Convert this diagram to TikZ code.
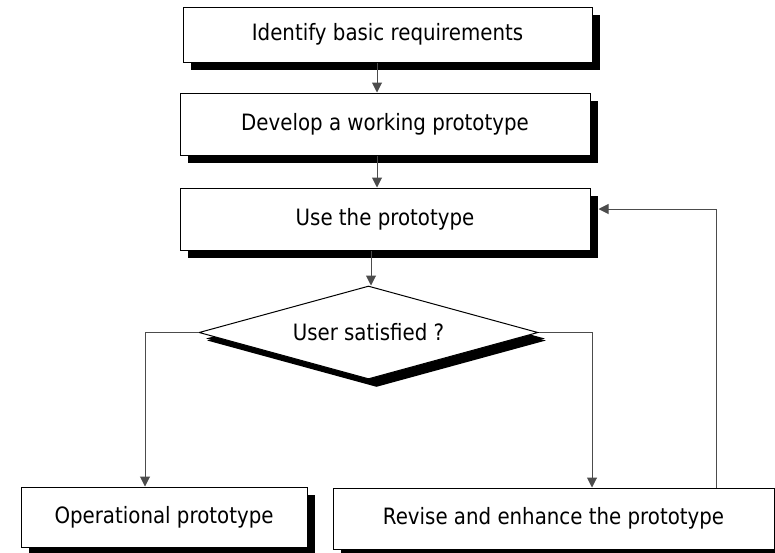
\documentclass[tikz,border=0pt]{standalone}
\usepackage{fontspec}
\setmainfont{DejaVu Sans}[FakeStretch=0.88]
\usetikzlibrary{shapes.geometric,shadows,arrows.meta}

\tikzset{
  base/.style={draw=black, line width=1pt, fill=white, inner sep=0pt,
    font=\fontsize{22.5}{27}\selectfont,
    drop shadow={shadow xshift=8pt, shadow yshift=-8pt, opacity=1, fill=black}},
  stepbox/.style={base, rectangle, minimum width=#1, minimum height=62pt},
  decision/.style={base, diamond, shape aspect=3.65, minimum width=339pt, minimum height=93pt,
    drop shadow={shadow xshift=7pt, shadow yshift=-6pt, opacity=1, fill=black}},
  link/.style={draw=black!70, line width=1pt},
  arr/.style={link, -{Triangle[width=10pt,length=10pt]}},
}

\begin{document}
\begin{tikzpicture}[x=1pt,y=-1pt]
  \useasboundingbox (0,0) rectangle (775,552);

  % process steps
  \node[stepbox=409pt, minimum height=55pt] (b1) at (387.5,34.5) {Identify basic requirements};
  \node[stepbox=410pt] (b2) at (385,124) {Develop a working prototype};
  \node[stepbox=410pt] (b3) at (385,219) {Use the prototype};

  % decision
  \node[decision] (d) at (368.5,332.5) {User satisfied ?};

  % outcomes
  \node[stepbox=286pt, minimum height=60pt] (op) at (164,517) {Operational prototype};
  \node[stepbox=441pt, minimum height=61pt] (rv) at (553.5,518.5) {Revise and enhance the prototype};

  % connectors
  \draw[arr] ([xshift=-8pt]b2.north |- b1.south) -- ([xshift=-8pt]b2.north);
  \draw[arr] ([xshift=-8pt]b3.north |- b2.south) -- ([xshift=-8pt]b3.north);
  \draw[arr] ([xshift=2.5pt]d.north |- b3.south) -- ([xshift=2.5pt]d.north);
  \draw[arr] (d.west) -| ([xshift=-19pt]op.north);
  \draw[arr] (d.east) -| ([xshift=38.5pt]rv.north);
  \draw[arr] ([xshift=162.5pt]rv.north) |- ([xshift=8pt,yshift=10pt]b3.east);
\end{tikzpicture}
\end{document}
